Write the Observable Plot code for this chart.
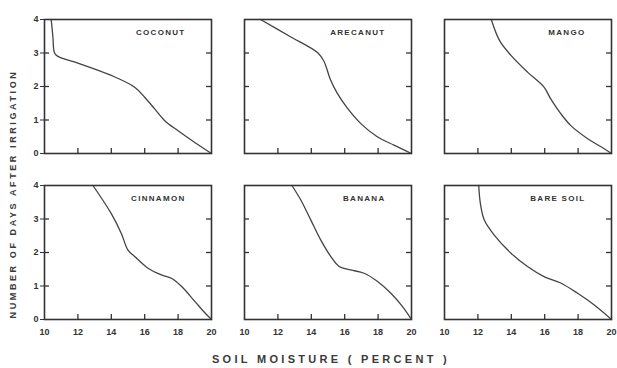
<!DOCTYPE html>
<html><head><meta charset="utf-8">
<script src="https://cdn.jsdelivr.net/npm/d3@7"></script>
<script src="https://cdn.jsdelivr.net/npm/@observablehq/plot@0.6"></script>
<style>
body{margin:0;background:#fff;}
#wrap{position:relative;width:617px;height:368px;overflow:hidden;background:#fff;}
#ytitle{position:absolute;left:13px;top:194px;transform:translate(-50%,-50%) rotate(-90deg);white-space:nowrap;font-family:"Liberation Sans",sans-serif;font-weight:bold;font-size:9px;letter-spacing:2.6px;color:#3a3a3a;}
#xtitle{position:absolute;left:331px;top:359px;transform:translate(-50%,-50%);white-space:nowrap;font-family:"Liberation Sans",sans-serif;font-weight:bold;font-size:11px;letter-spacing:3.3px;color:#3a3a3a;}
g[aria-label="text"] text{letter-spacing:1.3px;}
</style>
</head><body>
<div id="wrap">
<div id="ytitle">NUMBER OF DAYS AFTER IRRIGATION</div>
<div id="xtitle">SOIL MOISTURE ( PERCENT )</div>
</div>
<script>
const crops = ["COCONUT", "ARECANUT", "MANGO", "CINNAMON", "BANANA", "BARE SOIL"];
const cropCol = [0, 1, 2, 0, 1, 2];
const cropRow = [0, 0, 0, 1, 1, 1];

const coconutMoisture = [10.4, 10.5, 10.6, 10.8, 12, 14, 15.4, 16, 16.6, 17.2, 18, 19, 20];
const coconutDays     = [4, 3.5, 3.0, 2.9, 2.7, 2.33, 1.98, 1.68, 1.33, 0.98, 0.68, 0.33, 0];

const arecanutMoisture = [10.96, 12.7, 14.4, 14.75, 15.15, 15.55, 16.15, 16.95, 17.95, 18.95, 20];
const arecanutDays     = [4, 3.5, 3.0, 2.76, 2.2, 1.8, 1.36, 0.9, 0.5, 0.25, 0];

const mangoMoisture = [12.8, 13.3, 13.98, 14.97, 15.96, 16.36, 16.96, 17.55, 18.55, 19.54, 20];
const mangoDays     = [4, 3.37, 2.93, 2.43, 1.98, 1.63, 1.19, 0.84, 0.45, 0.15, 0];

const cinnamonMoisture = [12.9, 14.0, 14.6, 15.0, 15.4, 16.2, 17.0, 17.6, 18.2, 19.0, 19.6, 20];
const cinnamonDays     = [4, 3.16, 2.57, 2.07, 1.88, 1.53, 1.33, 1.23, 0.99, 0.54, 0.2, 0];

const bananaMoisture = [12.84, 13.38, 13.98, 14.57, 15.17, 15.67, 16.36, 17.16, 17.95, 18.75, 19.44, 20];
const bananaDays     = [4, 3.56, 2.96, 2.37, 1.88, 1.58, 1.48, 1.38, 1.14, 0.79, 0.4, 0];

const bareSoilMoisture = [12.05, 12.15, 12.39, 12.98, 13.98, 14.97, 15.96, 16.96, 17.95, 18.95, 20];
const bareSoilDays     = [4, 3.46, 2.96, 2.52, 1.98, 1.58, 1.28, 1.09, 0.79, 0.44, 0];

const xTickLabels = [10, 12, 14, 16, 18, 20];
const xInnerTicks = [12, 14, 16, 18];
const yTickLabels = [0, 1, 2, 3, 4];
const yInnerTicks = [1, 2, 3];

const series = [
  [coconutMoisture, coconutDays],
  [arecanutMoisture, arecanutDays],
  [mangoMoisture, mangoDays],
  [cinnamonMoisture, cinnamonDays],
  [bananaMoisture, bananaDays],
  [bareSoilMoisture, bareSoilDays]
];
const rows = [];
series.forEach(([xs, ys], i) => xs.forEach((m, j) => rows.push({crop: crops[i], col: cropCol[i], row: cropRow[i], m, d: ys[j]})));
const labels = crops.map((c, i) => ({crop: c, col: cropCol[i], row: cropRow[i]}));

const xDomain = [10, 20];
const yDomain = [0, 4];
// inward tick lengths as a fraction of each axis span (about 5px)
const xTickLen = (yDomain[1] - yDomain[0]) * 0.038;
const yTickLen = (xDomain[1] - xDomain[0]) * 0.03;
const tickStyle = {stroke: "#333", strokeWidth: 1.3};

const plot = Plot.plot({
  width: 617, height: 368,
  marginLeft: 43, marginRight: 6, marginTop: 19, marginBottom: 48,
  style: {fontFamily: "Liberation Sans, sans-serif", fontSize: "9px", fontWeight: "bold", color: "#333", background: "transparent"},
  fx: {domain: [0, 1, 2], paddingInner: 0.167, paddingOuter: 0, axis: null},
  fy: {domain: [0, 1], paddingInner: 0.192, paddingOuter: 0, axis: null},
  x: {domain: xDomain},
  y: {domain: yDomain},
  marks: [
    Plot.line(rows, {x: "m", y: "d", fx: "col", fy: "row", z: "crop", stroke: "#444", strokeWidth: 1.3, curve: "catmull-rom"}),
    Plot.ruleX(xInnerTicks, {x: (d) => d, y1: yDomain[0], y2: yDomain[0] + xTickLen, ...tickStyle}),
    Plot.ruleY(yInnerTicks, {y: (d) => d, x1: xDomain[0], x2: xDomain[0] + yTickLen, ...tickStyle}),
    Plot.ruleY(yInnerTicks, {y: (d) => d, x1: xDomain[1] - yTickLen, x2: xDomain[1], ...tickStyle}),
    Plot.frame({stroke: "#333", strokeWidth: 1.6}),
    Plot.axisY({anchor: "left", ticks: yTickLabels, tickSize: 4, tickPadding: 2, tickFormat: "d", facetAnchor: "left", label: null, stroke: "#333"}),
    Plot.axisX({ticks: xTickLabels, tickSize: 0, tickPadding: 9, tickFormat: "d", facetAnchor: "bottom", label: null}),
    Plot.text(labels, {text: "crop", fx: "col", fy: "row", frameAnchor: "top-right", dx: -26, dy: 10, textAnchor: "end", fontSize: 8, fontWeight: "bold", fill: "#333"})
  ]
});
document.getElementById("wrap").prepend(plot);
plot.style.position = "absolute";
plot.style.left = "0";
plot.style.top = "0";
</script>
</body></html>
